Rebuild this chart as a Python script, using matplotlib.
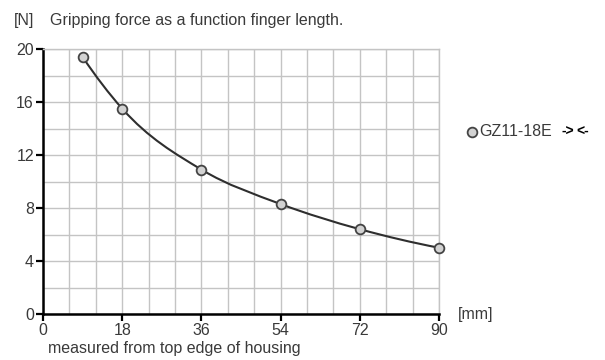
import matplotlib.pyplot as plt
import numpy as np
from matplotlib.path import Path
from matplotlib.patches import PathPatch
from matplotlib.ticker import MultipleLocator

plt.rcParams['font.family'] = ['Liberation Sans', 'DejaVu Sans']

finger_length = [9, 18, 36, 54, 72, 90]
force = [19.4, 15.5, 10.9, 8.3, 6.4, 5.0]
x_ticks = [0, 18, 36, 54, 72, 90]
y_ticks = [0, 4, 8, 12, 16, 20]
series_name = "GZ11-18E"

text_color = '#3a3a3a'
grid_color = '#c4c4c4'

fig = plt.figure(figsize=(6.05, 3.6), dpi=100)
ax = fig.add_axes([43 / 605, 1 - 314 / 360, 396 / 605, 265 / 360])

ax.set_xlim(0, 90)
ax.set_ylim(0, 20)
ax.xaxis.set_minor_locator(MultipleLocator(6))
ax.yaxis.set_minor_locator(MultipleLocator(2))
ax.set_xticks(x_ticks)
ax.set_yticks(y_ticks)
ax.grid(which='both', color=grid_color, linewidth=1.0)
ax.set_axisbelow(True)
ax.tick_params(which='minor', length=0)
ax.tick_params(which='major', length=5, width=1.6, color='black',
               labelsize=11.5, labelcolor=text_color, pad=1.5)

for side in ['top', 'right']:
    ax.spines[side].set_color(grid_color)
    ax.spines[side].set_linewidth(1.0)
for side in ['left', 'bottom']:
    ax.spines[side].set_color('black')
    ax.spines[side].set_linewidth(1.8)

# smooth curve through the points (cubic Hermite in x, drawn as bezier)
x = np.array(finger_length, dtype=float)
y = np.array(force, dtype=float)
h = np.diff(x)
d = np.diff(y) / h
m = np.zeros_like(y)
m[1:-1] = (d[:-1] * h[1:] + d[1:] * h[:-1]) / (h[:-1] + h[1:])
m[0] = 2 * d[0] - m[1]
m[-1] = 2 * d[-1] - m[-2]
verts = [(x[0], y[0])]
codes = [Path.MOVETO]
for i in range(len(x) - 1):
    verts += [(x[i] + h[i] / 3, y[i] + m[i] * h[i] / 3),
              (x[i + 1] - h[i] / 3, y[i + 1] - m[i + 1] * h[i] / 3),
              (x[i + 1], y[i + 1])]
    codes += [Path.CURVE4] * 3
ax.add_patch(PathPatch(Path(verts, codes), facecolor='none', edgecolor='#2e2e2e',
                       linewidth=1.5, zorder=3))

ax.plot(finger_length, force, 'o', markersize=7, markerfacecolor='#d2d2d2',
        markeredgecolor='#444444', markeredgewidth=1.3, zorder=4, clip_on=False)

fig.text(14 / 605, 1 - 20 / 360, "[N]", fontsize=11.5, color=text_color, va='center')
fig.text(50 / 605, 1 - 20 / 360, "Gripping force as a function finger length.",
         fontsize=11.5, color=text_color, va='center')
fig.text(458 / 605, 1 - 315 / 360, "[mm]", fontsize=11.5, color=text_color, va='center')
fig.text(48 / 605, 1 - 349 / 360, "measured from top edge of housing",
         fontsize=11.5, color=text_color, va='center')

fig.lines.append(plt.Line2D([472 / 605], [1 - 132 / 360], marker='o', markersize=7,
                            markerfacecolor='#d2d2d2', markeredgecolor='#444444',
                            markeredgewidth=1.3, transform=fig.transFigure))
fig.text(479 / 605, 1 - 132 / 360, series_name, fontsize=11.5, color=text_color, va='center')
fig.text(562 / 605, 1 - 132 / 360, "->", fontsize=10, fontweight='bold', color='black', va='center')
fig.text(576 / 605, 1 - 132 / 360, "<-", fontsize=10, fontweight='bold', color='black', va='center')

fig.savefig('out.png', dpi=100)
